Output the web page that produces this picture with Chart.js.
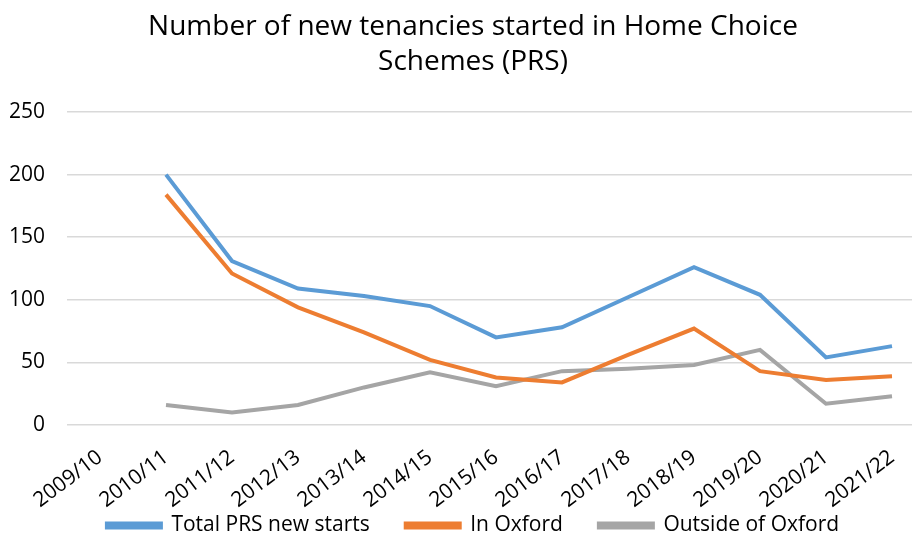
<!DOCTYPE html>
<html>
<head>
<meta charset="utf-8">
<script src="https://cdn.jsdelivr.net/npm/chart.js@4"></script>
<style>
  html, body { margin: 0; padding: 0; background: #fff; overflow: hidden; }
  #wrap { width: 912px; height: 535px; overflow: hidden; }
  #box { width: 946px; height: 535px; }
</style>
</head>
<body>
<div id="wrap"><div id="box"><canvas id="chart"></canvas></div></div>
<script>
const years = ['2009/10', '2010/11', '2011/12', '2012/13', '2013/14', '2014/15', '2015/16',
  '2016/17', '2017/18', '2018/19', '2019/20', '2020/21', '2021/22'];
const totalStarts = [null, 200, 131, 109, 103, 95, 70, 78, 102, 126, 104, 54, 63];
const inOxford = [null, 184, 121, 94, 74, 52, 38, 34, 56, 77, 43, 36, 39];
const outsideOxford = [null, 16, 10, 16, 30, 42, 31, 43, 45, 48, 60, 17, 23];

const font = "'Open Sans', 'Noto Sans', sans-serif";

function line(label, data, color) {
  return {
    label: label,
    data: data,
    borderColor: color,
    backgroundColor: color,
    borderWidth: 4,
    pointRadius: 0,
    tension: 0,
    fill: false,
  };
}

// fixed axis box sizes; labels may spill outside the box, so don't clip them
function fixBox(size) {
  return (scale) => {
    if (scale.isHorizontal()) {
      scale.height = size;
      scale.paddingLeft = 0;
      scale.paddingRight = 0;
    } else {
      scale.width = size;
    }
    scale._computeLabelArea = () => null;
  };
}

new Chart(document.getElementById('chart').getContext('2d'), {
  type: 'line',
  data: {
    labels: years,
    datasets: [
      line('Total PRS new starts', totalStarts, '#5B9BD5'),
      line('In Oxford', inOxford, '#ED7D31'),
      line('Outside of Oxford', outsideOxford, '#A5A5A5'),
    ]
  },
  options: {
    responsive: true,
    maintainAspectRatio: false,
    animation: false,
    // legend sits a little below the canvas edge so its wide item padding doesn't eat the plot
    layout: { padding: { left: 21, right: 21, top: 10, bottom: -11 } },
    plugins: {
      title: {
        display: true,
        text: ['Number of new tenancies started in Home Choice', 'Schemes (PRS)'],
        color: '#000',
        font: { family: font, size: 28, weight: 'normal', lineHeight: 1.25 },
        padding: { top: 0, bottom: 32 }
      },
      legend: {
        position: 'bottom',
        labels: {
          color: '#000',
          font: { family: font, size: 21 },
          boxWidth: 54,
          boxHeight: 4,
          padding: 36
        }
      },
      tooltip: { enabled: false }
    },
    scales: {
      x: {
        offset: true,
        grid: { display: false, drawTicks: false },
        border: { display: false },
        ticks: {
          color: '#000',
          font: { family: font, size: 21 },
          minRotation: 37,
          maxRotation: 37,
          padding: 20
        },
        afterFit: fixBox(54)
      },
      y: {
        min: 0,
        max: 250,
        grid: { color: '#D9D9D9', lineWidth: 1.5, drawTicks: false },
        border: { display: false },
        ticks: {
          stepSize: 50,
          color: '#000',
          font: { family: font, size: 21 },
          padding: 22
        },
        afterFit: fixBox(46)
      }
    }
  }
});
</script>
</body>
</html>
